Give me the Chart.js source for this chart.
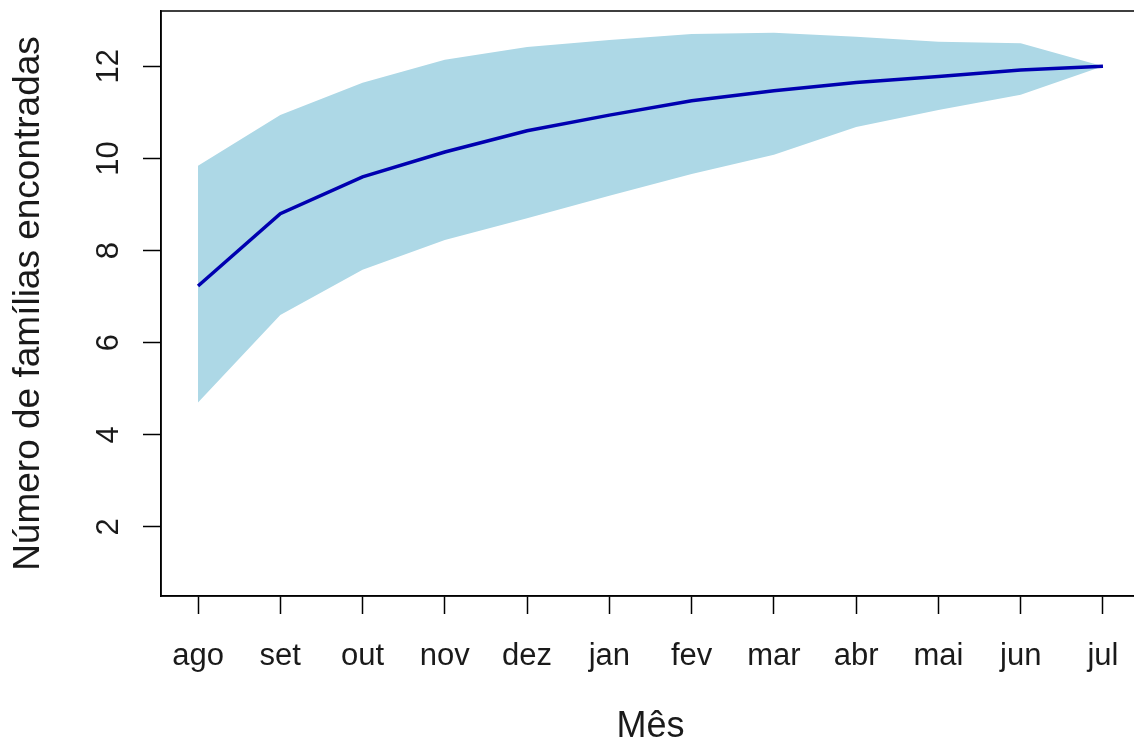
<!DOCTYPE html>
<html>
<head>
<meta charset="utf-8">
<script src="https://cdn.jsdelivr.net/npm/chart.js@4.4.1/dist/chart.umd.min.js"></script>
<style>
  html, body { margin: 0; padding: 0; background: #fff; overflow: hidden; }
  canvas { display: block; }
</style>
</head>
<body>
<canvas id="curva" width="1145" height="743"></canvas>
<script>
// Curva de acumulação de famílias por mês
const meses = ['ago', 'set', 'out', 'nov', 'dez', 'jan', 'fev', 'mar', 'abr', 'mai', 'jun', 'jul'];
const media = [7.23, 8.8, 9.6, 10.14, 10.6, 10.94, 11.25, 11.47, 11.65, 11.78, 11.92, 12.0];
const limiteSup = [9.84, 10.94, 11.64, 12.14, 12.42, 12.57, 12.7, 12.73, 12.64, 12.53, 12.5, 12.0];
const limiteInf = [4.7, 6.6, 7.58, 8.23, 8.7, 9.19, 9.66, 10.08, 10.68, 11.05, 11.38, 12.0];
const ticksY = [2, 4, 6, 8, 10, 12];

const fonte = "'Liberation Sans', Arial, sans-serif";
const corTexto = '#1a1a1a';

const pontos = (arr) => arr.map((v, i) => ({ x: i, y: v }));

// rótulos do eixo y girados, como no R (las = 0)
const rotulosY = {
  id: 'rotulosY',
  afterDraw(c) {
    const ctx = c.ctx;
    const y = c.scales.y;
    ctx.save();
    ctx.fillStyle = corTexto;
    ctx.font = `31px ${fonte}`;
    ctx.textAlign = 'center';
    ctx.textBaseline = 'alphabetic';
    y.ticks.forEach((t) => {
      ctx.save();
      ctx.translate(118, y.getPixelForValue(t.value));
      ctx.rotate(-Math.PI / 2);
      ctx.fillText(String(t.value), 0, 0);
      ctx.restore();
    });
    // moldura do gráfico
    const a = c.chartArea;
    ctx.strokeStyle = '#000';
    ctx.lineWidth = 1.5;
    ctx.strokeRect(a.left, a.top, a.right - a.left, a.bottom - a.top);
    ctx.restore();
  },
};

new Chart(document.getElementById('curva'), {
  type: 'line',
  data: {
    datasets: [
      {
        label: 'média',
        data: pontos(media),
        borderColor: '#0000B0',
        borderWidth: 3.5,
        pointRadius: 0,
        fill: false,
        tension: 0,
      },
      {
        label: 'superior',
        data: pontos(limiteSup),
        borderWidth: 0,
        borderColor: 'rgba(0,0,0,0)',
        backgroundColor: '#ADD8E6',
        pointRadius: 0,
        fill: '+1',
        tension: 0,
      },
      {
        label: 'inferior',
        data: pontos(limiteInf),
        borderWidth: 0,
        borderColor: 'rgba(0,0,0,0)',
        pointRadius: 0,
        fill: false,
        tension: 0,
      },
    ],
  },
  options: {
    responsive: false,
    devicePixelRatio: 1,
    animation: false,
    layout: {
      padding: { top: 11, right: 5, left: 0, bottom: 0 },
    },
    scales: {
      x: {
        type: 'linear',
        min: -0.45,
        max: 11.45,
        afterBuildTicks: (s) => { s.ticks = meses.map((m, i) => ({ value: i })); },
        afterFit: (s) => { s.height = 147; },
        grid: {
          drawOnChartArea: false,
          drawTicks: true,
          tickLength: 18,
          tickColor: '#000',
          tickWidth: 1.5,
        },
        border: { display: true, color: '#000', width: 1.5 },
        ticks: {
          autoSkip: false,
          maxRotation: 0,
          padding: 24,
          color: corTexto,
          font: { family: fonte, size: 31 },
          callback: (v) => meses[v],
        },
        title: {
          display: true,
          text: 'Mês',
          color: corTexto,
          font: { family: fonte, size: 36 },
          padding: { top: 0, bottom: -6 },
        },
      },
      y: {
        min: 0.5,
        max: 13.2,
        afterBuildTicks: (s) => { s.ticks = ticksY.map((v) => ({ value: v })); },
        afterFit: (s) => { s.width = 161; },
        grid: {
          drawOnChartArea: false,
          drawTicks: true,
          tickLength: 18,
          tickColor: '#000',
          tickWidth: 1.5,
        },
        border: { display: true, color: '#000', width: 1.5 },
        ticks: { display: false },
        title: {
          display: true,
          text: 'Número de famílias encontradas',
          color: corTexto,
          font: { family: fonte, size: 37 },
          padding: { top: 7, bottom: 0 },
        },
      },
    },
    plugins: {
      legend: { display: false },
      tooltip: { enabled: false },
    },
  },
  plugins: [rotulosY],
});
</script>
</body>
</html>
